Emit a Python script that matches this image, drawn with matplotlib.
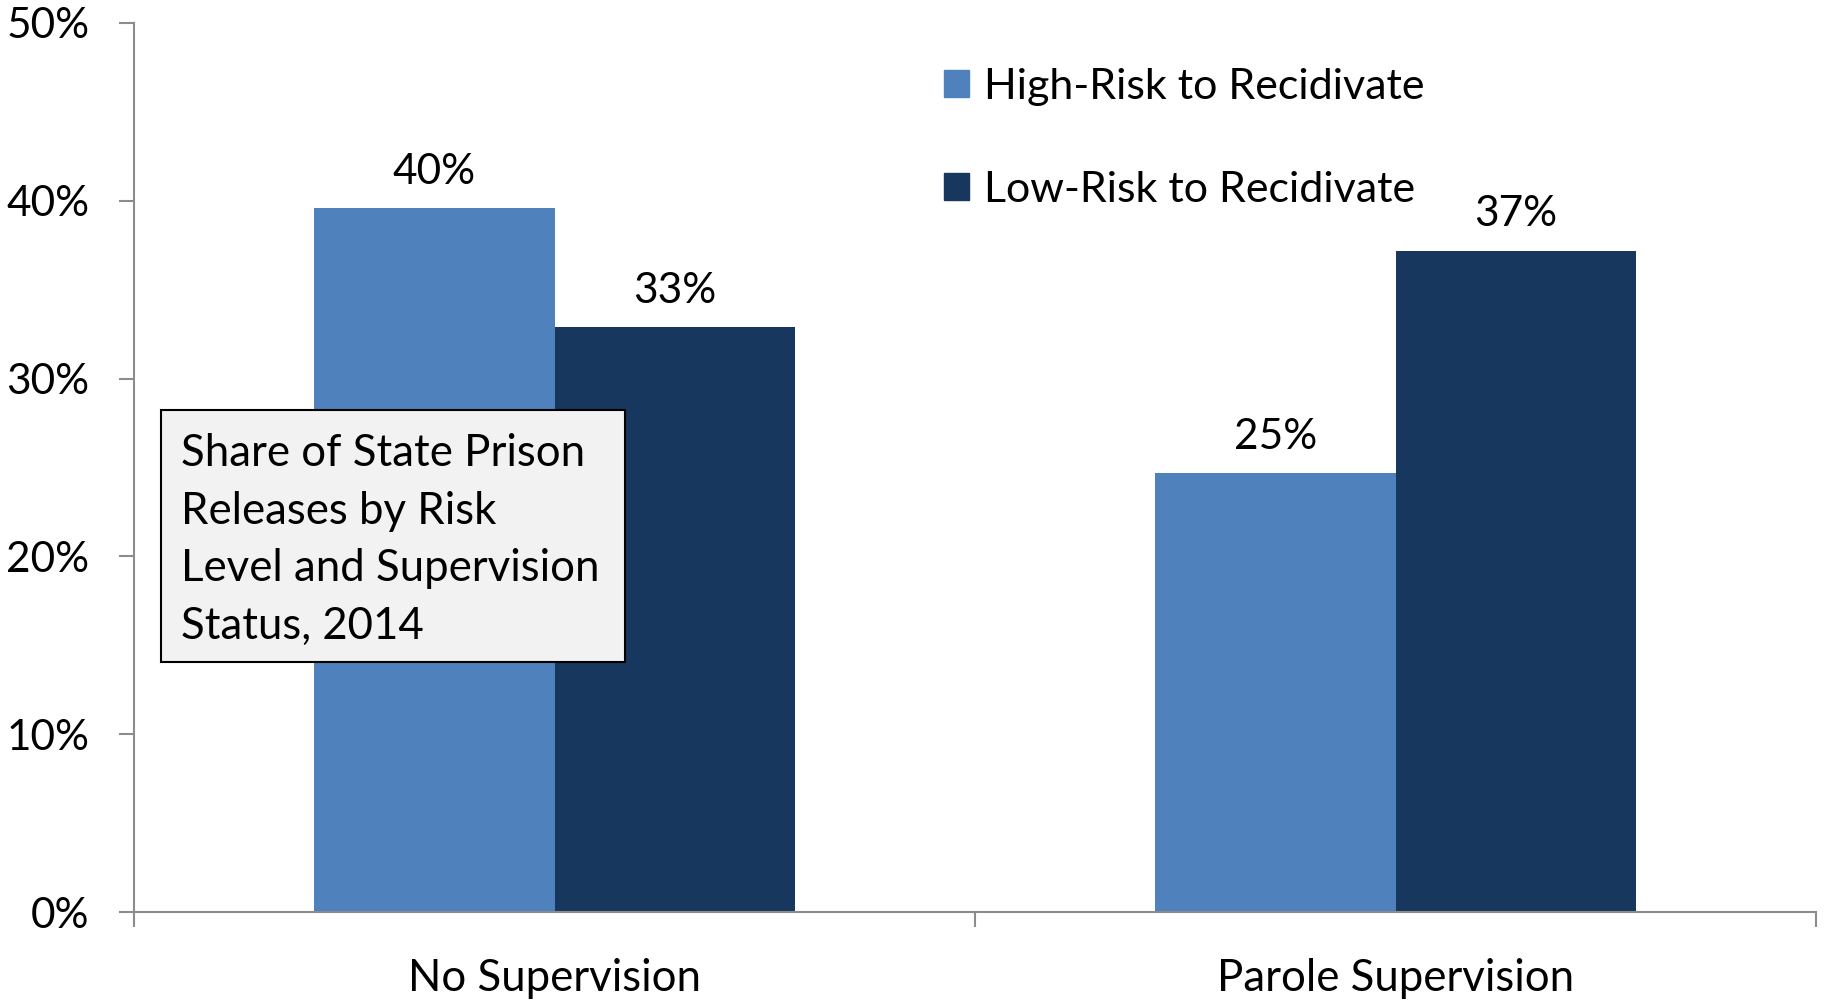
import matplotlib
matplotlib.use("Agg")
import matplotlib.pyplot as plt
from matplotlib.patches import Patch, Rectangle
import numpy as np

categories = ["No Supervision", "Parole Supervision"]
series_names = ["High-Risk to Recidivate", "Low-Risk to Recidivate"]
high_risk = [39.6, 24.7]
low_risk = [32.9, 37.2]
labels_high = ["40%", "25%"]
labels_low = ["33%", "37%"]
yticks = [0, 10, 20, 30, 40, 50]
ytick_labels = ["0%", "10%", "20%", "30%", "40%", "50%"]
box_text = "Share of State Prison\nReleases by Risk\nLevel and Supervision\nStatus, 2014"

plt.rcParams['font.family'] = ['Lato', 'DejaVu Sans']
W, H = 1825, 1001
fig = plt.figure(figsize=(W / 100, H / 100), dpi=100)
ax = fig.add_axes([134 / W, 1 - 912 / H, (1816 - 134) / W, (912 - 23) / H])

c_high = "#4F81BD"
c_low = "#17375E"
bw = 1 / 3.5
x = np.arange(len(categories))
b1 = ax.bar(x - bw / 2, high_risk, bw, color=c_high, label=series_names[0])
b2 = ax.bar(x + bw / 2, low_risk, bw, color=c_low, label=series_names[1])

for bars, labs in ((b1, labels_high), (b2, labels_low)):
    for r, lab in zip(bars, labs):
        ax.annotate(lab, (r.get_x() + r.get_width() / 2, r.get_height()),
                    xytext=(0, 17.5), textcoords="offset points",
                    ha="center", va="baseline", fontsize=30.5)

ax.set_xlim(-0.5, 1.5)
ax.set_ylim(0, 50)
ax.set_yticks(yticks)
ax.set_yticklabels(ytick_labels, fontsize=30.5)
ax.set_xticks([-0.5, 0.5, 1.5])
ax.set_xticklabels([])
ax.set_xticks(x, minor=True)
ax.set_xticklabels(categories, minor=True, fontsize=31.5)

gray = "#8C8C8C"
for s in ["top", "right"]:
    ax.spines[s].set_visible(False)
for s in ["left", "bottom"]:
    ax.spines[s].set_color(gray)
    ax.spines[s].set_linewidth(1.5)
ax.tick_params(axis="y", which="major", length=11, width=1.5, color=gray, pad=21)
ax.tick_params(axis="x", which="major", length=11, width=1.5, color=gray)
ax.tick_params(axis="x", which="minor", length=0, pad=33)

handles = [Patch(facecolor=c_high, edgecolor=c_high), Patch(facecolor=c_low, edgecolor=c_low)]
fig.legend(handles, series_names, loc="upper left",
           bbox_to_anchor=(944 / W, 1 - 68 / H), frameon=False, fontsize=31,
           handlelength=0.58, handleheight=0.58, handletextpad=0.35,
           labelspacing=1.5, borderpad=0, borderaxespad=0)

fig.add_artist(Rectangle((161 / W, 1 - 662 / H), (625 - 161) / W, (662 - 410) / H,
                         transform=fig.transFigure, facecolor="#F2F2F2",
                         edgecolor="black", linewidth=1.5, zorder=5))
fig.text(181 / W, 1 - 433 / H, box_text, ha="left", va="top", fontsize=31.5,
         linespacing=1.5, zorder=6)

fig.savefig("out.png", dpi=100)
